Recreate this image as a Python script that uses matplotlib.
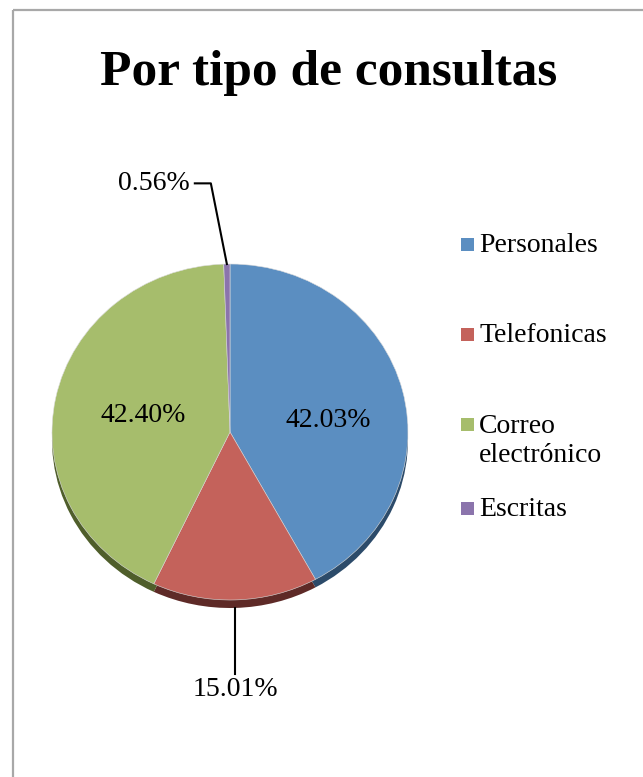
import numpy as np
import matplotlib
matplotlib.use("Agg")
import matplotlib.pyplot as plt
from matplotlib.patches import Rectangle

title = "Por tipo de consultas"
categories = ["Personales", "Telefonicas", "Correo\nelectrónico", "Escritas"]
values = [42.03, 15.01, 42.40, 0.56]
labels = ["42.03%", "15.01%", "42.40%", "0.56%"]
colors = ["#5B8EC1", "#C4625B", "#A6BD6C", "#8B74AC"]
side_colors = ["#2C4B6A", "#5E2A27", "#4F5E2B", "#4A3B5E"]

W, H = 643, 777
plt.rcParams['font.family'] = ['Liberation Serif', 'DejaVu Serif']
fig = plt.figure(figsize=(W / 100, H / 100), dpi=100)

# background / frame axes in pixel coords
bg = fig.add_axes([0, 0, 1, 1])
bg.set_xlim(0, W)
bg.set_ylim(H, 0)
bg.axis('off')
bg.add_patch(Rectangle((13, 10), 640, 780, fill=False, edgecolor="#A8A8A8", linewidth=1.6))
bg.text(329, 73, title, ha='center', va='center', fontsize=37, fontweight='bold')

# pie axes (elliptical top face)
cx, cy, rx, ry = 230, 432, 178, 168
depth = 8
ax = fig.add_axes([(cx - rx) / W, 1 - (cy + ry) / H, 2 * rx / W, 2 * ry / H])
dy = depth / ry
# side (shadow) of the 3D pie
ax.pie(values, colors=side_colors, startangle=90, counterclock=False, center=(0, -dy),
       radius=1, wedgeprops=dict(linewidth=0), frame=False)
wedges, _ = ax.pie(values, colors=colors, startangle=90, counterclock=False,
                   radius=1, wedgeprops=dict(linewidth=0.4, edgecolor="#dcdcdc"), frame=False)
ax.set_aspect('auto')
ax.set_xlim(-1, 1)
ax.set_ylim(-1, 1)
ax.axis('off')
for p in ax.patches:
    p.set_clip_on(False)

def mid_angle(w):
    return np.deg2rad((w.theta1 + w.theta2) / 2)

# inside labels
for i, r, off in [(0, 0.57, -0.07), (2, 0.50, 0.0)]:
    t = mid_angle(wedges[i])
    ax.text(r * np.cos(t), r * np.sin(t) + off, labels[i], ha='center', va='center', fontsize=20,
            clip_on=False)

# Telefonicas: leader line straight down
t = mid_angle(wedges[1])
x0, y0 = np.cos(t), np.sin(t) - dy
ax.plot([x0, x0], [y0, -1.44], color='black', lw=1.5, clip_on=False)
ax.text(x0, -1.46, labels[1], ha='center', va='top', fontsize=20, clip_on=False)

# Escritas: leader line up-left
t = mid_angle(wedges[3])
x0, y0 = np.cos(t), np.sin(t)
ax.plot([x0, x0 - 0.09, x0 - 0.18], [y0, 1.48, 1.48], color='black', lw=1.5, clip_on=False)
ax.text(x0 - 0.21, 1.48, labels[3], ha='right', va='center', fontsize=20, clip_on=False)

# legend
leg_y = [245, 335, 425, 509]
for name, c, y in zip(categories, colors, leg_y):
    bg.add_patch(Rectangle((461, y - 7), 13, 13, facecolor=c, edgecolor='none'))
    if '\n' in name:
        bg.text(479, y - 11, name, ha='left', va='top', fontsize=20, linespacing=1.2)
    else:
        bg.text(479, y + 1, name, ha='left', va='center', fontsize=20)

fig.savefig("out.png", dpi=100)
